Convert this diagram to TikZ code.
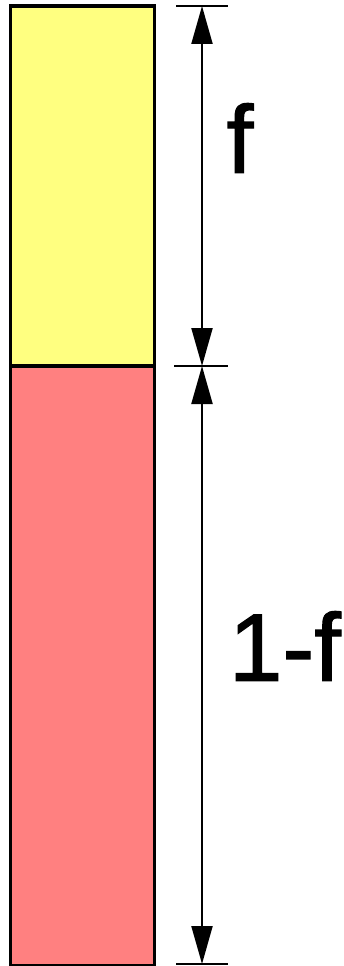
\documentclass[tikz,border=0pt]{standalone}
\usepackage{fontspec}
\setmainfont{Liberation Sans}
\newfontfamily\lblfont[FakeBold=1.2]{Liberation Sans}
\usetikzlibrary{arrows.meta}
\definecolor{ylw}{HTML}{FFFF80}
\definecolor{rd}{HTML}{FF8080}
\begin{document}
\begin{tikzpicture}[x=1pt,y=-1pt,
  box/.style={draw=black,line width=3.2pt},
  tick/.style={draw=black,line width=2.6pt},
  dim/.style={draw=black,line width=2.2pt,{Triangle[length=38pt,width=21pt]}-{Triangle[length=38pt,width=21pt]}},
  lbl/.style={font=\lblfont\fontsize{96}{96}\selectfont,inner sep=0pt}]
\useasboundingbox (0,0) rectangle (343,966);
\fill[white] (0,0) rectangle (343,966);
\begin{scope}
\clip (0,0) rectangle (343,966);
\filldraw[box,fill=ylw] (10.5,6) rectangle (154.5,366);
\filldraw[box,fill=rd] (10.5,366) rectangle (154.5,965.5);
\end{scope}
\coordinate (t0) at (202,6);
\coordinate (t1) at (202,366);
\coordinate (t2) at (202,964);
\draw[tick] (176,6) -- (228,6);
\draw[tick] (174,366) -- (228,366);
\draw[tick] (176,964) -- (228,964);
\draw[dim] (t0) -- (t1);
\draw[dim] (t1) -- (t2);
\node[lbl] (f) at (240,138) {f};
\node[lbl] (g) at (285,646) {1-f};
\end{tikzpicture}
\end{document}
